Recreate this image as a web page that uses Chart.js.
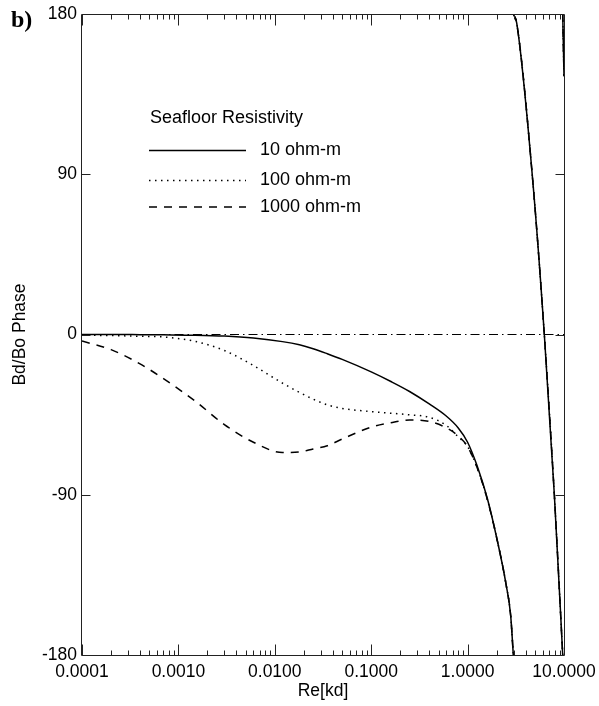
<!DOCTYPE html>
<html><head><meta charset="utf-8">
<script src="https://cdn.jsdelivr.net/npm/chart.js@4.4.1/dist/chart.umd.min.js"></script>
<style>html,body{margin:0;padding:0;background:#fff;} #wrap{position:relative;width:599px;height:706px;}</style>
</head><body><div id="wrap"><canvas id="c" width="599" height="706"></canvas></div>
<script>
// ---- data ----
const seriesLabels = ['10 ohm-m', '100 ohm-m', '1000 ohm-m'];
const legendTitle = 'Seafloor Resistivity';
const xTitle = 'Re[kd]';
const yTitle = 'Bd/Bo Phase';
const panelLabel = 'b)';

const xLow = [0.0001, 0.0002, 0.0004, 0.0007, 0.0015, 0.003, 0.006, 0.012, 0.018, 0.025, 0.035, 0.05, 0.1, 0.16, 0.25, 0.4, 0.6, 0.8, 1.0, 1.25, 1.6, 2.0, 2.5, 2.8, 2.98];
const phase10   = [0, 0, -0.1, -0.2, -0.4, -0.9, -2.0, -4.0, -5.8, -8.0, -10.8, -14.0, -21.0, -26.4, -32.0, -39.0, -45.8, -52.5, -60.5, -73.5, -92.0, -114.0, -140.0, -158.0, -180.0];
const phase100  = [-0.4, -0.6, -1.0, -1.4, -3.9, -9.0, -17.4, -27.3, -32.5, -36.3, -39.5, -41.5, -43.3, -44.2, -45.1, -46.5, -51.0, -57.5, -63.0, -74.5, -92.5, -114.0, -140.0, -158.0, -180.0];
const phase1000 = [-3.7, -8.5, -16.5, -24.8, -37.5, -50.6, -60.5, -66.3, -66.0, -64.3, -62.5, -58.7, -52.0, -49.5, -48.0, -48.8, -52.4, -57.0, -63.0, -74.5, -92.5, -114.0, -140.0, -158.0, -180.0];

// wrapped phase branches (all three resistivities coincide here)
const xWrap1 = [2.98, 3.23, 4.73, 6.25, 7.94, 9.7];
const phaseWrap1 = [180, 175, 87, 0, -90, -180];
const xWrap2 = [9.7, 10.0];
const phaseWrap2 = [180, 145];

const zeroX = [0.0001, 10];
const zeroY = [0, 0];

const xTicks = [0.0001, 0.001, 0.01, 0.1, 1, 10];
const yTicks = [-180, -90, 0, 90, 180];

// ---- build ----
const FONT = "'Liberation Sans', Arial, Helvetica, sans-serif";
const INK = '#000';
const FS = 17.5;
function pts(xs, ys) { return xs.map((x, i) => ({x: x, y: ys[i]})); }
function series(low) {
  return [].concat(pts(xLow, low), [{x: xWrap1[0], y: null}], pts(xWrap1, phaseWrap1),
                   [{x: xWrap2[0], y: null}], pts(xWrap2, phaseWrap2));
}
const styles = [
  {dash: [], width: 1.5},
  {dash: [1.5, 4.5], width: 1.5},
  {dash: [8, 7], width: 1.5}
];
const datasets = [phase10, phase100, phase1000].map((p, i) => ({
  label: seriesLabels[i], data: series(p), borderColor: INK, borderWidth: styles[i].width,
  borderDash: styles[i].dash, pointRadius: 0, cubicInterpolationMode: 'monotone', spanGaps: false, fill: false
}));
datasets.push({label: 'zero', data: pts(zeroX, zeroY), borderColor: INK, borderWidth: 1,
  borderDash: [9, 4, 1.5, 4], pointRadius: 0, fill: false});

const decor = {
  id: 'decor',
  afterDraw(chart) {
    const {ctx, chartArea: a, scales: {x, y}} = chart;
    ctx.save();
    ctx.strokeStyle = '#222';
    ctx.lineWidth = 1;
    const L = a.left - 0.5, R = a.right + 0.5, T = a.top + 0.5, B = a.bottom + 0.5;
    ctx.beginPath();
    ctx.rect(L, T, R - L, B - T);
    // x ticks top & bottom
    for (let d = -4; d <= 0; d++) {
      for (let k = 1; k <= 9; k++) {
        const v = k * Math.pow(10, d);
        const px = Math.round(x.getPixelForValue(v)) + 0.5;
        const len = k === 1 ? 11 : 5;
        ctx.moveTo(px, B); ctx.lineTo(px, B - len);
        ctx.moveTo(px, T); ctx.lineTo(px, T + len);
      }
    }
    // y ticks left & right
    [-90, 0, 90].forEach(v => {
      const py = Math.round(y.getPixelForValue(v)) + 0.5;
      ctx.moveTo(L, py); ctx.lineTo(L + 9, py);
      ctx.moveTo(R, py); ctx.lineTo(R - 9, py);
    });
    ctx.stroke();

    // legend
    ctx.fillStyle = INK;
    ctx.font = '18px ' + FONT;
    ctx.textBaseline = 'middle';
    ctx.textAlign = 'left';
    ctx.fillText(legendTitle, 150, 118);
    const ly = [150.5, 180.5, 207];
    seriesLabels.forEach((lab, i) => {
      ctx.beginPath();
      ctx.strokeStyle = INK;
      ctx.lineWidth = 1.3;
      ctx.setLineDash(styles[i].dash);
      ctx.moveTo(149, ly[i]); ctx.lineTo(246, ly[i]);
      ctx.stroke();
      ctx.setLineDash([]);
      ctx.fillText(lab, 260, ly[i]);
    });

    // panel label
    ctx.font = "bold 24px 'Liberation Serif', 'DejaVu Serif', serif";
    ctx.textBaseline = 'alphabetic';
    ctx.fillText(panelLabel, 11, 27);
    ctx.restore();
  }
};

new Chart(document.getElementById('c'), {
  type: 'line',
  data: {datasets: datasets},
  plugins: [decor],
  options: {
    responsive: false,
    animation: false,
    layout: {padding: {top: 14, right: 35, left: 0, bottom: 0}},
    plugins: {legend: {display: false}, tooltip: {enabled: false}},
    elements: {point: {radius: 0}},
    scales: {
      x: {
        type: 'logarithmic', min: 0.0001, max: 10, position: 'bottom',
        afterBuildTicks: s => { s.ticks = xTicks.map(v => ({value: v})); },
        afterFit: s => { s.height = 51; s.paddingLeft = 0; s.paddingRight = 0; },
        ticks: {callback: v => Number(v).toFixed(4), font: {family: FONT, size: FS}, color: INK,
                padding: 7, maxRotation: 0, autoSkip: false},
        grid: {display: false, drawTicks: false},
        border: {display: false},
        title: {display: true, text: xTitle, font: {family: FONT, size: FS}, color: INK, padding: {top: 0, bottom: 4}}
      },
      y: {
        min: -180, max: 180,
        afterBuildTicks: s => { s.ticks = yTicks.map(v => ({value: v})); },
        afterFit: s => { s.width = 82; s.paddingTop = 0; s.paddingBottom = 0; },
        ticks: {font: {family: FONT, size: FS}, color: INK, padding: 5},
        grid: {display: false, drawTicks: false},
        border: {display: false},
        title: {display: true, text: yTitle, font: {family: FONT, size: FS}, color: INK, padding: {top: 10, bottom: 0}}
      }
    }
  }
});
</script>
</body></html>
